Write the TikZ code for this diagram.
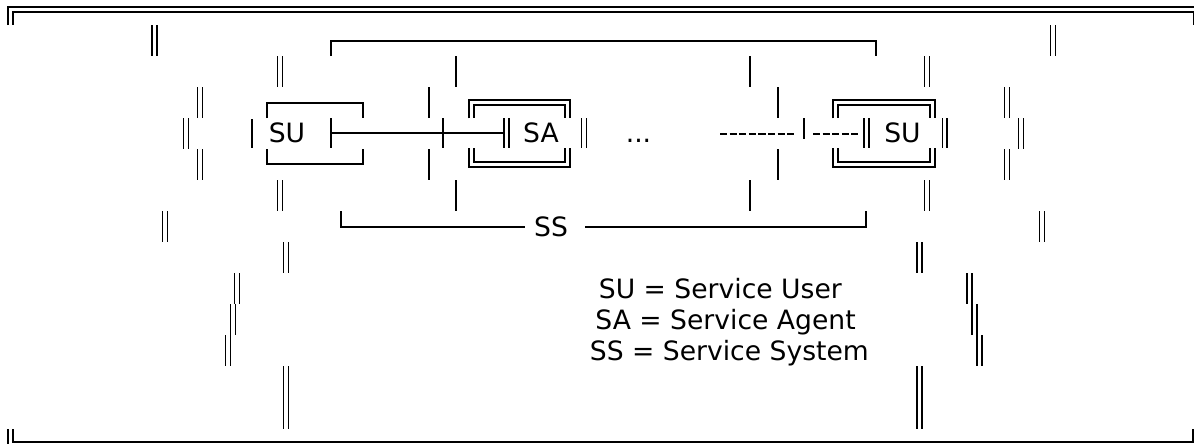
\documentclass[tikz,border=0pt]{standalone}
\usepackage{fontspec}
\setmainfont{DejaVu Sans}
\begin{document}
\begin{tikzpicture}[x=1pt, y=-1pt, line width=1.8pt,
    dbl/.style={double, double distance=3.2pt, line width=1.7pt},
    lbl/.style={font=\fontsize{26.6}{31}\selectfont, inner sep=0pt, anchor=base},
    dashes/.style={dash pattern=on 7.2pt off 2.4pt, line width=1.9pt}]
    \useasboundingbox (0,0) rectangle (1194,445);
    \clip (0,0) rectangle (1194,445);

    % Frame
    \draw[dbl] (10.5,25) |- (1196,9.5) -- (1196,25);
    \draw (8,429) -- (8,443.5);
    \draw (13,429) |- (1194,442.3);
    \draw (1193,429) -- (1193,442.3);

    % Nodes
    \node (SU1) [lbl] at (287,142.5) {SU};
    \node (SA) [lbl] at (541,142.5) {SA};
    \node (dots) [lbl] at (638.5,142.5) {...};
    \node (SU2) [lbl] at (902.5,142.5) {SU};
    \node (SS) [lbl] at (551,236) {SS};
    \node (keySU) [lbl, anchor=base west] at (598,298) {SU = Service User};
    \node (keySA) [lbl, anchor=base west] at (594.5,329) {SA = Service Agent};
    \node (keySS) [lbl, anchor=base west] at (589,360) {SS = Service System};

    % Boxes
    \draw (267,118) |- (363,102.7) -- (363,118);
    \draw (267,149) |- (363,164) -- (363,149);
    \draw (252,119) -- (252,148);
    \draw[dbl] (471.2,118.3) |- (567.7,102.5) -- (567.7,118.3);
    \draw[dbl] (471.2,148.3) |- (567.7,164.2) -- (567.7,148.3);
    \draw[dbl] (506.3,118.3) -- (506.3,148.3);
    \draw[dbl] (584,118.3) -- (584,148.3);
    \draw[dbl] (835.5,118.3) |- (932.5,102.5) -- (932.5,118.3);
    \draw[dbl] (835.5,148.3) |- (932.5,164.2) -- (932.5,148.3);
    \draw[dbl] (866.5,118.3) -- (866.5,148.3);
    \draw[dbl] (944.8,118.3) -- (944.8,148.3);

    % Links
    \coordinate (tee) at (331,133.3);
    \coordinate (cross) at (442.7,133.3);
    \coordinate (SAbar) at (504.6,133.3);
    \draw (331,118) -- (331,148.3);
    \draw (442.7,118.3) -- (442.7,148.3);
    \draw (tee) -- (cross) -- (SAbar);
    \coordinate (dashA) at (720,134.3);
    \coordinate (dashB) at (795,134.3);
    \coordinate (dashC) at (813,134.3);
    \coordinate (dashD) at (858,134.3);
    \draw[dashes] (dashA) -- (dashB);
    \draw (804,118) -- (804,139);
    \draw[dashes] (dashC) -- (dashD);

    % Brackets
    \draw (331,56) |- (876.3,40.7) -- (876.3,56);
    \draw (340.7,211) |- (525,226.7);
    \draw (585,226.7) -| (865.7,211);

    % Single bars
    \draw (456,56) -- (456,87);
    \draw (750,56) -- (750,87);
    \draw (429,87) -- (429,118);
    \draw (778,87) -- (778,118);
    \draw (429,149) -- (429,180);
    \draw (778,149) -- (778,180);
    \draw (456,180) -- (456,211);
    \draw (750,180) -- (750,211);

    % Double bars, left side
    \draw[dbl] (154.5,25) -- (154.5,56);
    \draw[dbl] (280,56) -- (280,87);
    \draw[dbl] (200,87) -- (200,118);
    \draw[dbl] (186,118) -- (186,149);
    \draw[dbl] (200,149) -- (200,180);
    \draw[dbl] (280,180) -- (280,211);
    \draw[dbl] (165,211) -- (165,242);
    \draw[dbl] (286,242) -- (286,273);
    \draw[dbl] (237,273) -- (237,304);
    \draw[dbl] (233,304) -- (233,335);
    \draw[dbl] (228,335) -- (228,366);
    \draw[dbl] (286,366) -- (286,429);

    % Double bars, right side
    \draw[dbl] (1053,25) -- (1053,56);
    \draw[dbl] (927,56) -- (927,87);
    \draw[dbl] (1007,87) -- (1007,118);
    \draw[dbl] (1021,118) -- (1021,149);
    \draw[dbl] (1007,149) -- (1007,180);
    \draw[dbl] (927,180) -- (927,211);
    \draw[dbl] (1042,211) -- (1042,242);
    \draw[dbl] (919.5,242) -- (919.5,273);
    \draw[dbl] (969.5,273) -- (969.5,304);
    \draw[dbl] (974.3,304) -- (974.3,335);
    \draw[dbl] (979.5,335) -- (979.5,366);
    \draw[dbl] (919.5,366) -- (919.5,429);
\end{tikzpicture}
\end{document}
